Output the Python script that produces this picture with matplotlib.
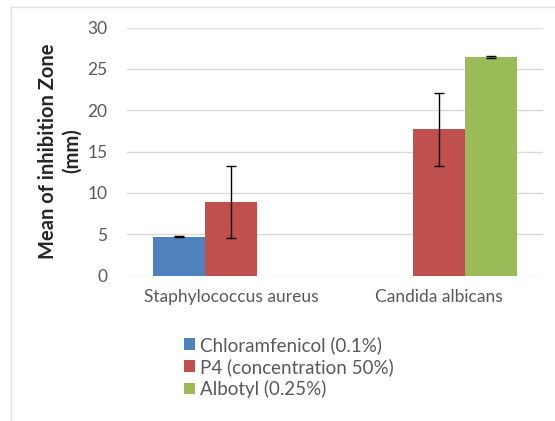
import matplotlib.pyplot as plt
import numpy as np
from matplotlib.lines import Line2D

categories = ['Staphylococcus aureus', 'Candida albicans']
series = ['Chloramfenicol (0.1%)', 'P4 (concentration 50%)', 'Albotyl (0.25%)']
means = [[4.7, 0.0], [8.9, 17.7], [0.0, 26.45]]
errors = [[0.1, 0.0], [4.4, 4.4], [0.0, 0.1]]
colors = ['#4F81BD', '#C0504D', '#9BBB59']
yticks = [0, 5, 10, 15, 20, 25, 30]

plt.rcParams['font.family'] = ['Lato', 'DejaVu Sans']

fig = plt.figure(figsize=(5.55, 4.21), dpi=100)
ax = fig.add_axes([127 / 555, 1 - 275.5 / 421, 416 / 555, 248 / 421])

x = np.arange(len(categories))
w = 0.25
for i, (name, vals, errs, c) in enumerate(zip(series, means, errors, colors)):
    pos = x + (i - 1) * w
    ax.bar(pos, vals, width=w, color=c, label=name, zorder=2)
    for p, v, e in zip(pos, vals, errs):
        if v > 0:
            ax.errorbar(p, v, yerr=e, fmt='none', ecolor='black',
                        elinewidth=1, capsize=3.8, capthick=1, zorder=3)

ax.set_xlim(-0.5, 1.5)
ax.set_ylim(0, 30)
ax.set_yticks(yticks)
ax.set_xticks(x)
ax.set_xticklabels(categories)
ax.yaxis.grid(True, color='#d9d9d9', linewidth=1, zorder=0)
ax.set_axisbelow(True)
for s in ax.spines.values():
    s.set_visible(False)
ax.tick_params(axis='both', length=0, labelsize=12.5, colors='#595959')
ax.tick_params(axis='y', pad=14)
ax.tick_params(axis='x', pad=10)

fig.text(60 / 555, 1 - 151 / 421, 'Mean of inhibition Zone\n(mm)', rotation=90,
         ha='center', va='center', fontsize=14.5, fontweight='bold',
         color='#262626', linespacing=1.25)

fig.legend(loc='upper left', bbox_to_anchor=(184 / 555, 1 - 336 / 421),
           frameon=False, fontsize=13.5, handlelength=0.6, handleheight=0.6,
           handletextpad=0.25, labelspacing=0.22, labelcolor='#595959',
           borderaxespad=0, borderpad=0)

fig.add_artist(Line2D([11 / 555, 11 / 555], [0, 1 - 7 / 421],
                      transform=fig.transFigure, color='#e3e3e3', lw=1))
fig.add_artist(Line2D([11 / 555, 1], [1 - 7 / 421, 1 - 7 / 421],
                      transform=fig.transFigure, color='#e3e3e3', lw=1))

fig.savefig('out.png', dpi=100)
